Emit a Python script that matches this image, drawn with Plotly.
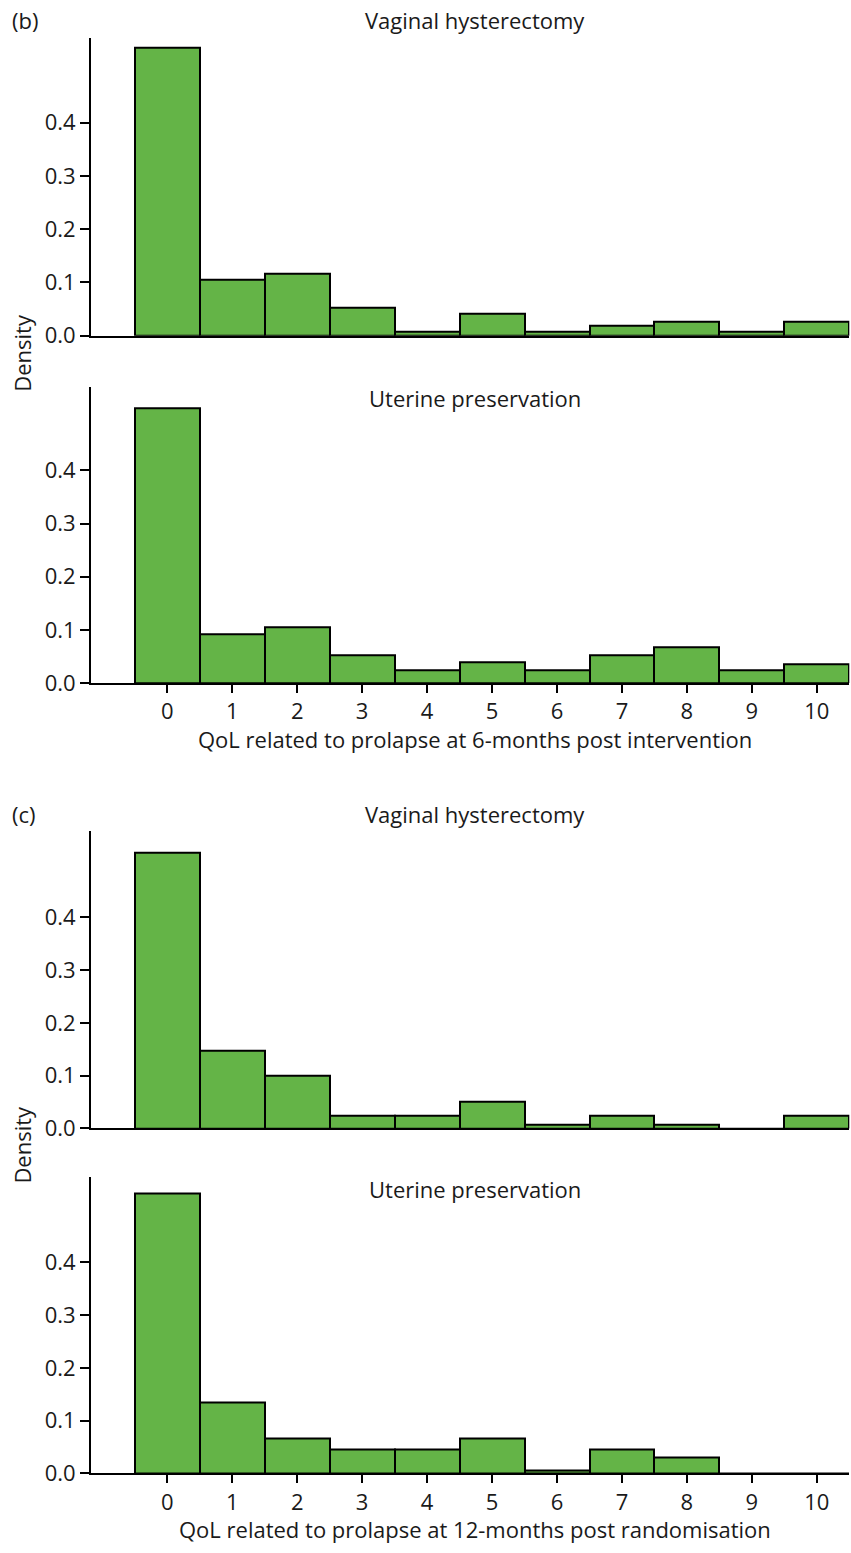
import plotly.graph_objects as go

# QoL score categories (x) and histogram densities per arm / time point
qol_scores = list(range(11))
tick_labels = [str(v) for v in qol_scores]

vh_6m = [0.541, 0.105, 0.116, 0.053, 0.007, 0.042, 0.007, 0.018, 0.027, 0.007, 0.027]
up_6m = [0.518, 0.092, 0.105, 0.053, 0.024, 0.040, 0.024, 0.053, 0.068, 0.024, 0.035]
vh_12m = [0.522, 0.148, 0.100, 0.025, 0.025, 0.050, 0.007, 0.025, 0.007, 0.0, 0.025]
up_12m = [0.531, 0.135, 0.066, 0.045, 0.045, 0.066, 0.006, 0.045, 0.030, 0.0, 0.0]

density_ticks = [0.0, 0.1, 0.2, 0.3, 0.4]
density_labels = ["0.0", "0.1", "0.2", "0.3", "0.4"]

W, H = 851, 1553
FONT = "Open Sans"
FS = 22
INK = "#1a1a1a"
GREEN = "#64b447"

# panel pixel boxes: (values, top, bottom, y max, show x tick labels)
panels = [
    (vh_6m, 38.0, 338.7, 0.5594, False),
    (up_6m, 390.7, 689.3, 0.5566, True),
    (vh_12m, 838.3, 1138.7, 0.564, False),
    (up_12m, 1187.3, 1486.7, 0.563, True),
]
x_left, x_right = 91.0, 849.3


def py(pix):
    return 1 - pix / H


fig = go.Figure()
layout = dict(
    width=W, height=H, margin=dict(l=0, r=0, t=0, b=0),
    paper_bgcolor="white", plot_bgcolor="white",
    showlegend=False, bargap=0,
    font=dict(family=FONT, size=FS, color=INK),
)

for i, (vals, top, bottom, ymax, labelled) in enumerate(panels, start=1):
    xa = "x" if i == 1 else f"x{i}"
    ya = "y" if i == 1 else f"y{i}"
    fig.add_trace(go.Bar(
        x=qol_scores, y=vals, width=1, xaxis=xa, yaxis=ya,
        marker=dict(color=GREEN, line=dict(color="black", width=2)),
        hoverinfo="x+y",
    ))
    xkey = "xaxis" if i == 1 else f"xaxis{i}"
    ykey = "yaxis" if i == 1 else f"yaxis{i}"
    layout[xkey] = dict(
        domain=[x_left / W, x_right / W], anchor=ya,
        range=[-1.175, 10.5], showgrid=False, zeroline=False,
        showline=True, linecolor="black", linewidth=2,
        tickmode="array", tickvals=qol_scores, ticktext=tick_labels,
        ticks="outside" if labelled else "", ticklen=8, tickwidth=2,
        tickcolor="black", showticklabels=labelled,
        tickfont=dict(family=FONT, size=FS, color=INK),
    )
    layout[ykey] = dict(
        domain=[py(bottom), py(top)], anchor=xa,
        range=[0, ymax], showgrid=False, zeroline=False,
        showline=True, linecolor="black", linewidth=2,
        tickmode="array", tickvals=density_ticks, ticktext=density_labels,
        ticks="outside", ticklen=9, tickwidth=2, tickcolor="black",
        tickfont=dict(family=FONT, size=FS, color=INK),
    )

fig.update_layout(**layout)

notes = [
    ("(b)", 10, 20, "left", 0),
    ("Vaginal hysterectomy", 475, 20, "center", 0),
    ("Uterine preservation", 475, 402, "center", 0),
    ("QoL related to prolapse at 6-months post intervention", 475, 746, "center", 0),
    ("(c)", 10, 821, "left", 0),
    ("Vaginal hysterectomy", 475, 821, "center", 0),
    ("Uterine preservation", 475, 1200, "center", 0),
    ("QoL related to prolapse at 12-months post randomisation", 475, 1543, "center", 0),
    ("Density", 22, 356, "center", -90),
    ("Density", 22, 1155, "center", -90),
]
for text, xp, yp, align, ang in notes:
    fig.add_annotation(
        text=text, x=xp / W, y=py(yp), xref="paper", yref="paper",
        xanchor=align, yanchor="middle", showarrow=False, textangle=ang,
        font=dict(family=FONT, size=FS, color=INK),
    )

fig.write_html("out.html")
